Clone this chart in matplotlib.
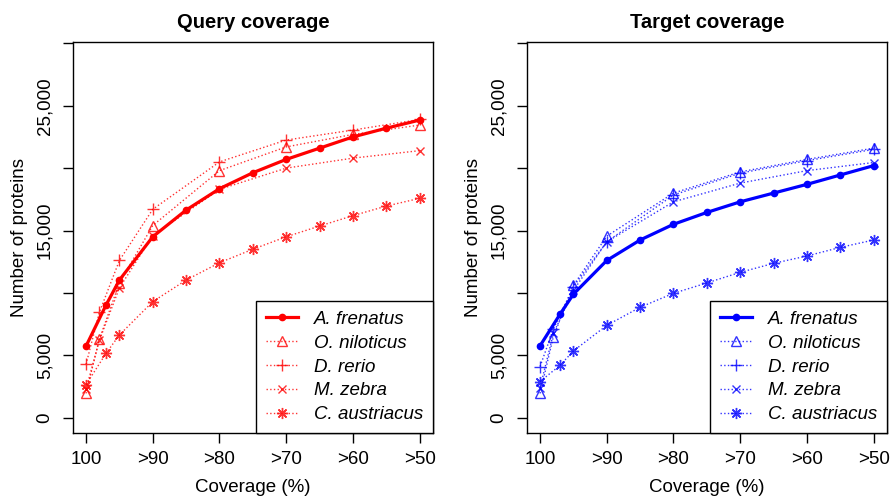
import matplotlib.pyplot as plt

# coverage thresholds (x positions)
x_full = [100, 97, 95, 90, 85, 80, 75, 70, 65, 60, 55, 50]
x_sub = [100, 98, 95, 90, 80, 70, 60, 50]
xtick_pos = [100, 90, 80, 70, 60, 50]
xtick_labels = ['100', '>90', '>80', '>70', '>60', '>50']
ytick_pos = [0, 5000, 10000, 15000, 20000, 25000, 30000]
ytick_labels = ['0', '5,000', '', '15,000', '', '25,000', '']

species = ['A. frenatus', 'O. niloticus', 'D. rerio', 'M. zebra', 'C. austriacus']

# Query coverage
afre_q = [5740, 9030, 11030, 14500, 16640, 18350, 19630, 20700, 21600, 22500, 23200, 23850]
onil_q = [1950, 6300, 10800, 15400, 19800, 21700, 22700, 23450]
drer_q = [4280, 8450, 12600, 16700, 20500, 22250, 23050, 23900]
mzeb_q = [2300, 6200, 10400, 14600, 18300, 20000, 20800, 21400]
caus_q = [2650, 5160, 6630, 9300, 11030, 12420, 13500, 14500, 15360, 16190, 16960, 17580]

# Target coverage
afre_t = [5760, 8300, 9900, 12600, 14240, 15500, 16450, 17300, 18000, 18700, 19450, 20200]
onil_t = [1950, 6500, 10600, 14550, 18000, 19700, 20700, 21600]
drer_t = [4100, 7100, 10500, 14100, 17850, 19600, 20600, 21500]
mzeb_t = [2400, 6750, 10200, 14100, 17300, 18800, 19800, 20450]
caus_t = [2900, 4200, 5350, 7400, 8850, 9970, 10800, 11650, 12370, 12960, 13650, 14240]

plt.rcParams['font.family'] = ['Liberation Sans', 'DejaVu Sans']

fig = plt.figure(figsize=(8.93, 5), dpi=100)
ax1 = fig.add_axes([0.0814, 0.1346, 0.4035, 0.782])
ax2 = fig.add_axes([0.5898, 0.1346, 0.4035, 0.782])


def draw_panel(ax, title, col, afre, onil, drer, mzeb, caus):
    ax.plot(x_full, afre, color=col, lw=2.3, marker='o', ms=4.5, label=species[0])
    kw = dict(color=col, lw=1.0, ls=':', alpha=0.8)
    ax.plot(x_sub, onil, marker='^', ms=7, mfc='none', mew=1.0, label=species[1], **kw)
    ax.plot(x_sub, drer, marker='+', ms=9, mew=1.0, label=species[2], **kw)
    ax.plot(x_sub, mzeb, marker='x', ms=6, mew=1.0, label=species[3], **kw)
    ax.plot(x_full, caus, marker=(8, 2, 0), ms=8, mew=1.0, label=species[4], **kw)

    ax.set_xlim(102, 48)
    ax.set_ylim(-1200, 30130)
    ax.set_xticks(xtick_pos)
    ax.set_xticklabels(xtick_labels)
    ax.set_yticks(ytick_pos)
    ax.set_yticklabels(ytick_labels, rotation=90, va='center')
    ax.tick_params(direction='out', length=7, width=1, labelsize=13.5, pad=6)
    ax.tick_params(axis='y', pad=7)
    for s in ax.spines.values():
        s.set_linewidth(1.0)
    ax.set_title(title, fontsize=14.5, fontweight='bold', pad=10)
    ax.set_xlabel('Coverage (%)', fontsize=13.5, labelpad=8)
    ax.set_ylabel('Number of proteins', fontsize=13.5, labelpad=6)
    leg = ax.legend(loc='lower right', borderaxespad=0, fancybox=False,
                    prop={'style': 'italic', 'size': 13.5},
                    handlelength=1.7, labelspacing=0.36, borderpad=0.5,
                    handletextpad=0.9)
    leg.get_frame().set_edgecolor('black')
    leg.get_frame().set_linewidth(1.0)
    leg.get_frame().set_alpha(1)


draw_panel(ax1, 'Query coverage', '#ff0000', afre_q, onil_q, drer_q, mzeb_q, caus_q)
draw_panel(ax2, 'Target coverage', '#0000ff', afre_t, onil_t, drer_t, mzeb_t, caus_t)

fig.savefig('out.png', dpi=100)
